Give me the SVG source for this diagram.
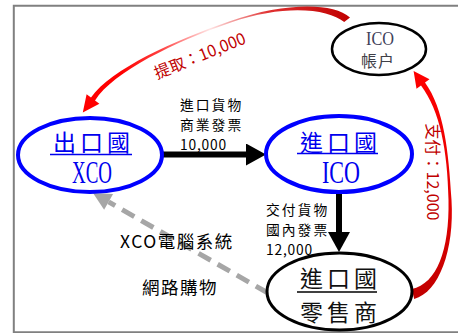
<svg xmlns="http://www.w3.org/2000/svg" width="458" height="333" viewBox="0 0 458 333">
<defs>
<style>
.lbl{font-family:"Noto Sans CJK TC","Noto Sans",sans-serif;font-size:13.8px;fill:#000;letter-spacing:2px}
.num{letter-spacing:0.8px}
.big{font-family:"Noto Sans CJK TC","Noto Sans",sans-serif;font-size:17.5px;fill:#000;letter-spacing:1.5px}
.red{font-family:"Noto Sans CJK TC","Noto Sans",sans-serif;font-size:16px;fill:#c00000}
.cjk{font-family:"Liberation Serif","Noto Sans CJK TC",serif;font-size:23px;letter-spacing:4px}
.lat{font-family:"Liberation Serif",serif;font-size:32px}
.blue{fill:#0000ee}
.ell-blue{fill:#fff;stroke:#0000ff;stroke-width:4}
.ell-black{fill:#fff;stroke:#000;stroke-width:3}
.ul-blue{stroke:#0000ee;stroke-width:1.5}
.ul-black{stroke:#000;stroke-width:1.5}
.shaft{stroke:#000;stroke-width:6;fill:none}
</style>
<linearGradient id="g1" gradientUnits="userSpaceOnUse" x1="350" y1="0" x2="80" y2="0">
<stop offset="0" stop-color="#c00000"/>
<stop offset="0.3" stop-color="#e03030"/>
<stop offset="0.52" stop-color="#ffe4e4"/>
<stop offset="0.7" stop-color="#ff4040"/>
<stop offset="0.85" stop-color="#ff0000"/>
<stop offset="1" stop-color="#ff0000"/>
</linearGradient>
<linearGradient id="g2" gradientUnits="userSpaceOnUse" x1="0" y1="300" x2="0" y2="70">
<stop offset="0" stop-color="#c00000"/>
<stop offset="0.5" stop-color="#e80000"/>
<stop offset="1" stop-color="#ff0000"/>
</linearGradient>
<marker id="ah" markerUnits="userSpaceOnUse" markerWidth="20" markerHeight="22" viewBox="0 0 20 22" refX="0" refY="11" orient="auto">
<path d="M0,0 L20,11 L0,22 Z" fill="#000"/>
</marker>
</defs>

<path d="M460,5.8 H13.8 V332.3 H460" fill="none" stroke="#808080" stroke-width="2"/>

<g id="connectors">
<line class="shaft" x1="162" y1="154.5" x2="246" y2="154.5" marker-end="url(#ah)"/>
<line class="shaft" x1="339" y1="192" x2="339" y2="232" marker-end="url(#ah)"/>
<line x1="268" y1="293" x2="108.6" y2="201.9" stroke="#a6a6a6" stroke-width="5" stroke-dasharray="14 8"/>
<polygon points="93,193 113.1,194.1 104.1,209.7" fill="#a6a6a6"/>
<path d="M350,17.5 C333,2.5 285,2.2 229.8,21.2 S111,69 91,97.5 L86.6,94.2 L82.8,112.6 L99.4,103.8 L95,100.5 C113.5,71.5 175,41.8 230.2,22.8 C285.4,3.8 327.5,9 344.2,22.1 Z" fill="url(#g1)"/>
<path d="M414.2,298.9 C439,292.4 454.5,250 451.5,200 S444,109 425,82.5 L429.5,79.3 L413.6,71 L416.5,88.7 L421,85.5 C440,111 447.5,150 448.5,200 C449.5,250 437,283.6 411.8,289.1 Z" fill="url(#g2)"/>
<text class="lbl"><tspan x="180" y="110">進口貨物</tspan><tspan x="180" y="130">商業發票</tspan><tspan class="num" x="180" y="150">10,000</tspan></text>
<text class="lbl"><tspan x="266" y="215">交付貨物</tspan><tspan x="266" y="235">國內發票</tspan><tspan class="num" x="266" y="255">12,000</tspan></text>
<text class="big" x="120" y="248">XCO電腦系統</text>
<text class="big" x="142" y="294">網路購物</text>
<text class="red" transform="translate(202,61) rotate(-22)" text-anchor="middle">提取：10,000</text>
<text class="red" transform="translate(427,172) rotate(90)" text-anchor="middle">支付：12,000</text>
</g>

<g id="xco">
<ellipse class="ell-blue" cx="90" cy="155" rx="72" ry="37"/>
<text class="cjk blue" x="53" y="151">出口國</text>
<line class="ul-blue" x1="50" y1="154.5" x2="132" y2="154.5"/>
<text class="lat blue" x="72" y="183" textLength="40" lengthAdjust="spacingAndGlyphs">XCO</text>
</g>

<g id="ico">
<ellipse class="ell-blue" cx="339" cy="154" rx="73" ry="38"/>
<text class="cjk blue" x="300" y="151">進口國</text>
<line class="ul-blue" x1="297" y1="153.5" x2="378" y2="153.5"/>
<text class="lat blue" x="322" y="183" textLength="38" lengthAdjust="spacingAndGlyphs">ICO</text>
</g>

<g id="ico-account">
<ellipse fill="#fff" stroke="#000" stroke-width="2.5" cx="379" cy="49" rx="47" ry="26"/>
<text x="366" y="45" font-family="Liberation Serif, serif" font-size="19" fill="#404058" textLength="28" lengthAdjust="spacingAndGlyphs">ICO</text>
<text x="361" y="67" font-family="Liberation Serif, Noto Sans CJK TC, serif" font-size="16" letter-spacing="1" fill="#404048">帳户</text>
</g>

<g id="retailer">
<ellipse class="ell-black" cx="339.5" cy="291.5" rx="72.5" ry="38.5"/>
<text class="cjk" x="300" y="287" fill="#111">進口國</text>
<line class="ul-black" x1="297" y1="292" x2="377" y2="292"/>
<text class="cjk" x="300" y="321" fill="#111">零售商</text>
</g>
</svg>
